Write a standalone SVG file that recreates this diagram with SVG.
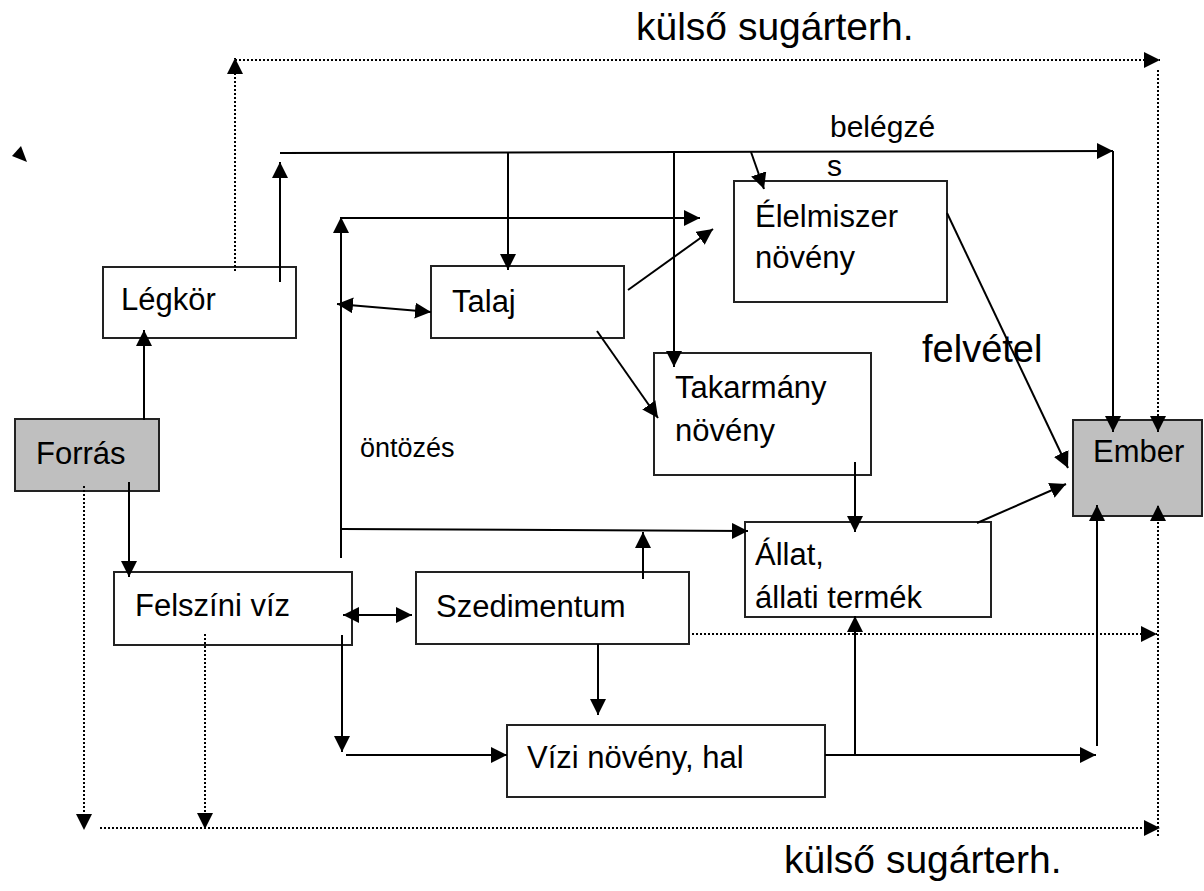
<svg xmlns="http://www.w3.org/2000/svg" width="1204" height="891" viewBox="0 0 1204 891">
<defs>
<marker id="ah" markerUnits="userSpaceOnUse" markerWidth="17" markerHeight="16" refX="16" refY="8" orient="auto-start-reverse" viewBox="0 0 17 16">
<path d="M0,0 L16,8 L0,16 z" fill="#000"/>
</marker>
<style>
.box{fill:#fff;stroke:#222;stroke-width:2}
.grey{fill:#bfbfbf}
.t{font-family:"Liberation Sans",Arial,sans-serif;font-size:31px;fill:#000}
.s{fill:none;stroke:#000;stroke-width:2}
.d{fill:none;stroke:#000;stroke-width:2;stroke-dasharray:2 2}
.a{marker-end:url(#ah)}
.aa{marker-start:url(#ah);marker-end:url(#ah)}
</style>
</defs>
<rect width="1204" height="891" fill="#fff"/>
<g id="legkor"><rect class="box" x="103" y="267" width="193" height="71"/><text class="t" x="121" y="310">Légkör</text></g>
<g id="forras"><rect class="box grey" x="15" y="419" width="144" height="72"/><text class="t" x="36" y="464">Forrás</text></g>
<g id="felszini"><rect class="box" x="114" y="572" width="238" height="73"/><text class="t" x="135" y="616">Felszíni víz</text></g>
<g id="szedimentum"><rect class="box" x="416" y="572" width="273" height="72"/><text class="t" x="436" y="617">Szedimentum</text></g>
<g id="vizi"><rect class="box" x="507" y="725" width="318" height="72"/><text class="t" x="527" y="768">Vízi növény, hal</text></g>
<g id="allat"><rect class="box" x="745" y="522" width="246" height="95"/><text class="t" x="755" y="565">Állat,</text><text class="t" x="755" y="608">állati termék</text></g>
<g id="talaj"><rect class="box" x="431" y="266" width="193" height="72"/><text class="t" x="452" y="312">Talaj</text></g>
<g id="elelmiszer"><rect class="box" x="734" y="181" width="213" height="121"/><text class="t" x="755" y="227">Élelmiszer</text><text class="t" x="755" y="268">növény</text></g>
<g id="takarmany"><rect class="box" x="654" y="353" width="217" height="122"/><text class="t" x="675" y="398">Takarmány</text><text class="t" x="675" y="441">növény</text></g>
<g id="ember"><rect class="box grey" x="1073" y="420" width="129" height="96"/><text class="t" x="1093" y="462">Ember</text></g>
<g id="labels">
<text class="t" x="636" y="40" style="font-size:39px">külső sugárterh.</text>
<text class="t" x="784" y="873" style="font-size:39px">külső sugárterh.</text>
<text class="t" x="830" y="137" style="font-size:30px">belégzé</text>
<text class="t" x="827" y="176" style="font-size:30px">s</text>
<text class="t" x="922" y="362" style="font-size:38px">felvétel</text>
<text class="t" x="360" y="457" style="font-size:27px">öntözés</text>
</g>
<g id="connectors">
<path class="d a" d="M235,271 V58"/>
<path class="d a" d="M235,60 H1160"/>
<path class="d a" d="M1158,70 V432"/>
<path class="d a" d="M1158,836 V505"/>
<path class="d a" d="M692,634 H1157"/>
<path class="d a" d="M100,828 H1160"/>
<path class="d a" d="M84,486 V830"/>
<path class="d a" d="M205,634 V829"/>
<path class="s a" d="M144,420 V330"/>
<path class="s a" d="M129,482 V577"/>
<path class="s a" d="M280,282 V162"/>
<path class="s a" d="M280,153 L1113,151"/>
<path class="s a" d="M1113,151 V432"/>
<path class="s a" d="M508,153 V270"/>
<path class="s a" d="M674,152 V367"/>
<path class="s a" d="M751,152 L764,189"/>
<path class="s a" d="M341,558 V217"/>
<path class="s a" d="M341,218 H700"/>
<path class="s a" d="M341,529 L748,531"/>
<path class="s aa" d="M337,304 L431,312"/>
<path class="s a" d="M628,290 L713,229"/>
<path class="s a" d="M597,331 L658,418"/>
<path class="s a" d="M855,462 V532"/>
<path class="s a" d="M947,213 L1068,468"/>
<path class="s a" d="M977,523 L1066,484"/>
<path class="s aa" d="M343,615 H412"/>
<path class="s a" d="M342,635 V752"/>
<path class="s a" d="M346,755 H507"/>
<path class="s a" d="M643,579 V532"/>
<path class="s a" d="M598,644 V715"/>
<path class="s a" d="M825,755 H1096"/>
<path class="s a" d="M855,755 V616"/>
<path class="s a" d="M1097,746 V505"/>
<polygon points="21,146 12,156 27,162" fill="#000"/>
</g>
</svg>
